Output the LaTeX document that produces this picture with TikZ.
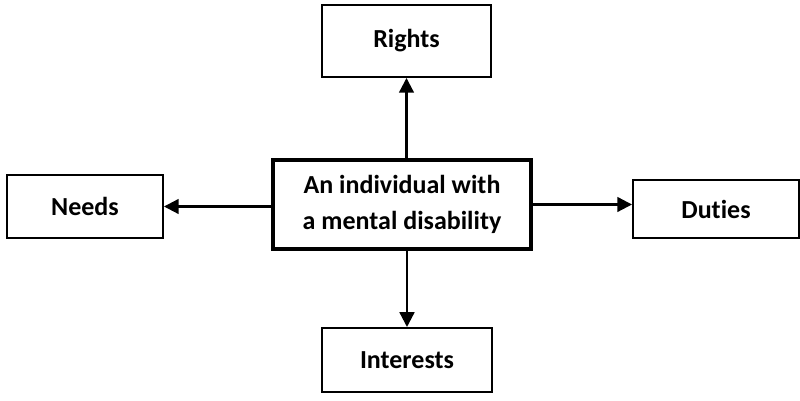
\documentclass[tikz,border=0pt]{standalone}
\usepackage{fontspec}
\setmainfont{Carlito}[Ligatures={NoCommon,NoRare}]
\usetikzlibrary{arrows.meta,positioning}

\begin{document}
\begin{tikzpicture}[
      box/.style={draw,line width=1.4pt,align=center,inner sep=0pt,
                  font=\fontsize{18.5}{25.6}\selectfont\bfseries},
      mainbox/.style={box,line width=2.8pt},
      arr/.style={-{Triangle[length=10.5pt,width=10.5pt]},line width=1.6pt},
  ]
  \useasboundingbox (0,0) rectangle (20,10.025);

  % Central node
  \node[mainbox,minimum width=6.45cm,minimum height=2.225cm] (ind) at (10.05,4.9125)
    {An individual with\\a mental disability};

  % Surrounding nodes
  \node[box,minimum width=4.225cm,minimum height=1.8cm] (rights) at (10.1625,9.0) {Rights};
  \node[box,minimum width=3.9cm,minimum height=1.575cm] (needs) at (2.125,4.8625) {Needs};
  \node[box,minimum width=4.15cm,minimum height=1.45cm] (duties) at (17.9,4.8) {Duties};
  \node[box,minimum width=4.25cm,minimum height=1.6cm] (interests) at (10.175,1.025) {Interests};

  % Arrows
  \draw[arr] (ind.north -| rights) -- (rights.south);
  \draw[arr] (ind.west |- needs) -- (needs.east);
  \draw[arr] (ind.east) -- (duties.west |- ind.east);
  \draw[arr] (ind.south -| interests) -- (interests.north);
\end{tikzpicture}
\end{document}
